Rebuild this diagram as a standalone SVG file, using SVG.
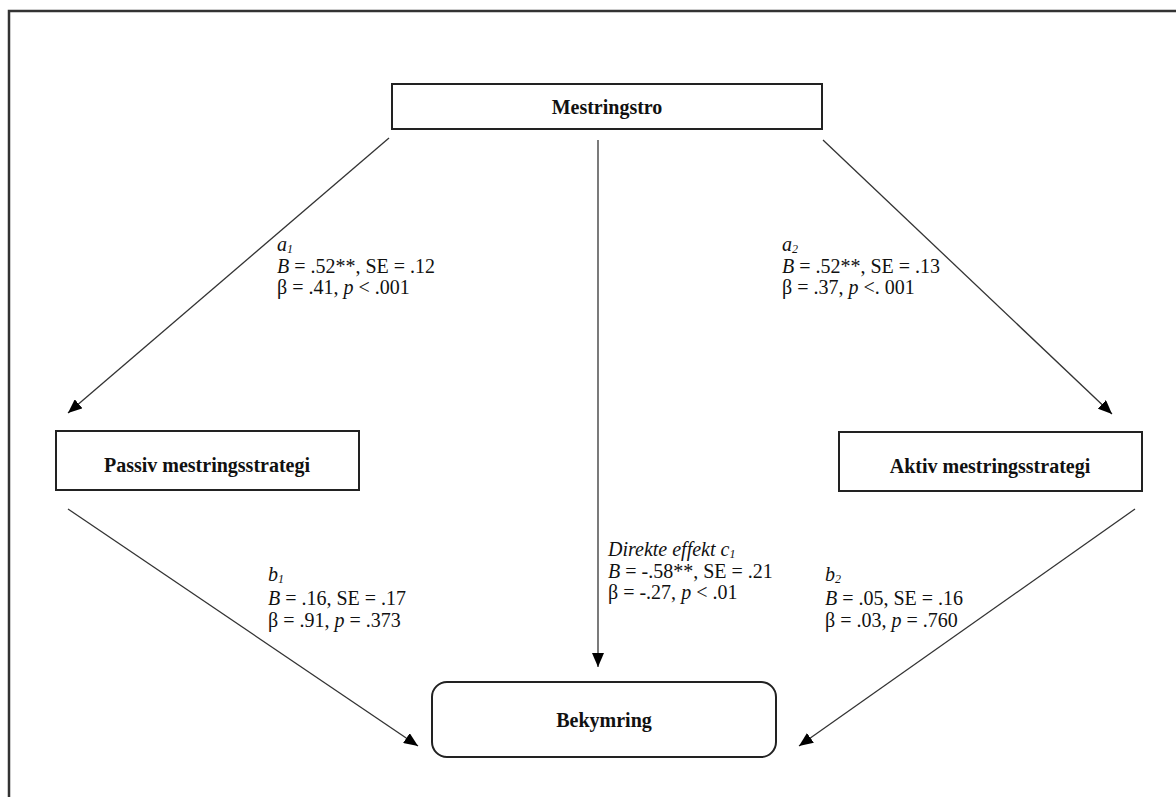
<svg xmlns="http://www.w3.org/2000/svg" width="1176" height="797" viewBox="0 0 1176 797">
<style>
.box{fill:#fff;stroke:#222;stroke-width:2}
.lbl{font-family:"Liberation Serif","Times New Roman",serif;font-size:20px;font-weight:bold;fill:#111;text-anchor:middle}
.t{font-family:"Liberation Serif","Times New Roman",serif;font-size:20px;fill:#111}
.i{font-style:italic}
.sub{font-size:12px;font-style:italic}
.edge{stroke:#333;stroke-width:1.3;fill:none;marker-end:url(#ah)}
</style>
<defs>
<marker id="ah" markerUnits="userSpaceOnUse" markerWidth="14" markerHeight="12" viewBox="0 0 14 12" refX="14" refY="6" orient="auto">
<path d="M0,0 L14,6 L0,12 Z" fill="#000"/>
</marker>
</defs>
<rect width="1176" height="797" fill="#fff"/>
<path d="M9,797 V11 H1176" fill="none" stroke="#333" stroke-width="2.5"/>
<g id="connectors">
<line class="edge" x1="389" y1="138" x2="68" y2="413"/>
<line class="edge" x1="598" y1="140" x2="598" y2="667"/>
<line class="edge" x1="823" y1="140" x2="1112" y2="414"/>
<line class="edge" x1="68" y1="509" x2="418" y2="746"/>
<line class="edge" x1="1135" y1="509" x2="799" y2="746"/>
</g>
<g id="node-mestringstro">
<rect class="box" x="392" y="84" width="430" height="45"/>
<text class="lbl" x="607" y="114">Mestringstro</text>
</g>
<g id="node-passiv">
<rect class="box" x="56" y="431" width="303" height="59"/>
<text class="lbl" x="207" y="472">Passiv mestringsstrategi</text>
</g>
<g id="node-aktiv">
<rect class="box" x="839" y="432" width="303" height="59"/>
<text class="lbl" x="990" y="473">Aktiv mestringsstrategi</text>
</g>
<g id="node-bekymring">
<rect class="box" x="432" y="682" width="344" height="75" rx="15"/>
<text class="lbl" x="604" y="727">Bekymring</text>
</g>
<g id="labels">
<text class="t" x="277" y="251"><tspan class="i">a</tspan><tspan class="sub" dy="2">1</tspan></text>
<text class="t" x="277" y="273"><tspan class="i">B</tspan> = .52**, SE = .12</text>
<text class="t" x="277" y="294">β = .41, <tspan class="i">p</tspan> &lt; .001</text>
<text class="t" x="782" y="251"><tspan class="i">a</tspan><tspan class="sub" dy="2">2</tspan></text>
<text class="t" x="782" y="273"><tspan class="i">B</tspan> = .52**, SE = .13</text>
<text class="t" x="782" y="294">β = .37, <tspan class="i">p</tspan> &lt;. 001</text>
<text class="t i" x="608" y="556">Direkte effekt c<tspan class="sub" dy="2">1</tspan></text>
<text class="t" x="608" y="578"><tspan class="i">B</tspan> = -.58**, SE = .21</text>
<text class="t" x="608" y="599">β = -.27, <tspan class="i">p</tspan> &lt; .01</text>
<text class="t" x="268" y="581"><tspan class="i">b</tspan><tspan class="sub" dy="2">1</tspan></text>
<text class="t" x="268" y="605"><tspan class="i">B</tspan> = .16, SE = .17</text>
<text class="t" x="268" y="627">β = .91, <tspan class="i">p</tspan> = .373</text>
<text class="t" x="825" y="581"><tspan class="i">b</tspan><tspan class="sub" dy="2">2</tspan></text>
<text class="t" x="825" y="605"><tspan class="i">B</tspan> = .05, SE = .16</text>
<text class="t" x="825" y="627">β = .03, <tspan class="i">p</tspan> = .760</text>
</g>
</svg>
